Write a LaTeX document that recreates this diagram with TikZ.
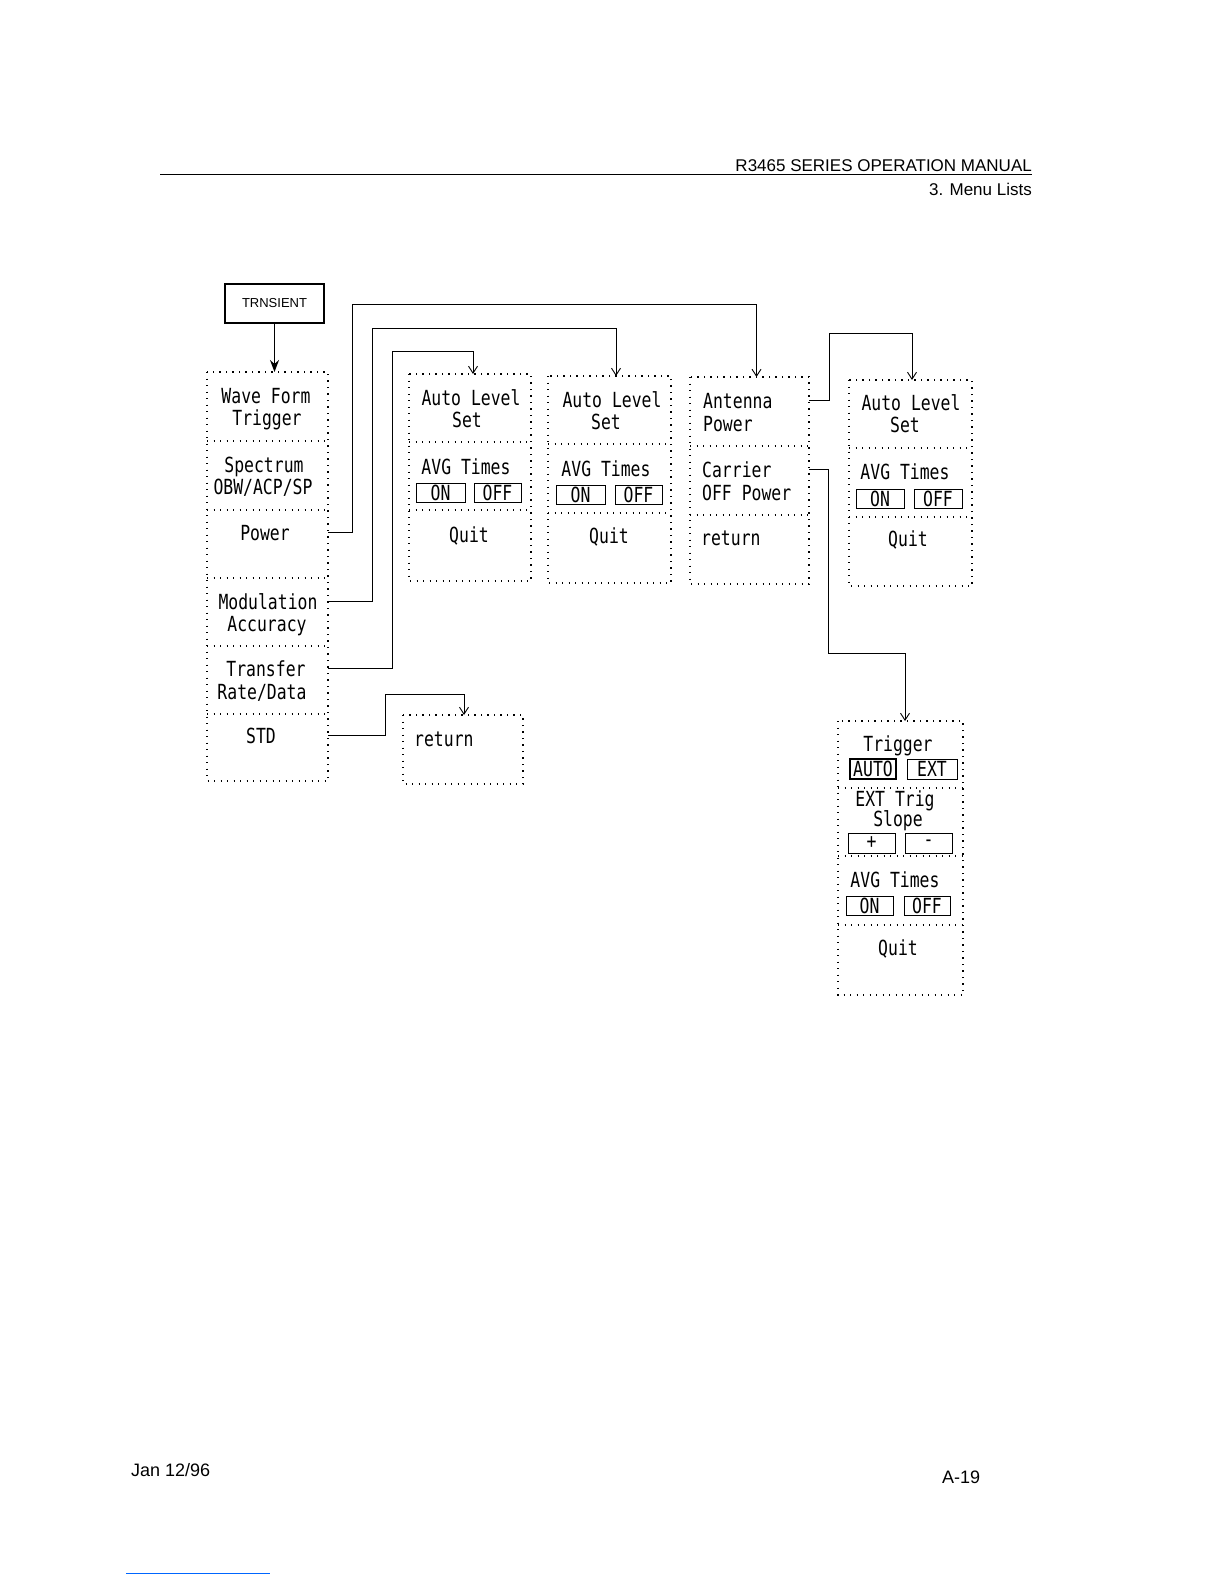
\documentclass[tikz,border=0pt]{standalone}
\usepackage{fontspec}
\usetikzlibrary{arrows.meta,calc}
\newfontfamily\dgmfont[FakeStretch=0.79]{DejaVu Sans Mono}
\newfontfamily\hdrfont{Liberation Sans}
\newcommand\dgm{\dgmfont\fontsize{20.8}{22}\selectfont}
\newcommand\hdr{\hdrfont\fontsize{17}{20}\selectfont}
\newcommand\ftr{\hdrfont\fontsize{18}{20}\selectfont}
\newcommand\trn{\hdrfont\fontsize{13}{14}\selectfont}
\begin{document}
\begin{tikzpicture}[x=1pt,y=-1pt,
  cell/.style={rectangle,inner sep=0pt,outer sep=0pt,anchor=north west},
  dots/.style={line width=1.1pt,dash pattern=on 1.2pt off 5.3pt},
  txt/.style={font=\dgm,inner sep=0pt,anchor=base},
  ltxt/.style={font=\dgm,inner sep=0pt,anchor=base west},
  btn/.style={draw,line width=0.9pt,inner sep=0pt,minimum height=19,font=\dgm},
  link/.style={line width=0.9pt,-{Straight Barb[length=7pt,width=9pt]}}]
\useasboundingbox (0,0) rectangle (1224,1584);
\fill[white] (0,0) rectangle (1224,1584);

% header
\node[font=\hdr,inner sep=0pt,anchor=base east] (h1) at (1032,171) {R3465 SERIES OPERATION MANUAL};
\node[font=\hdr,inner sep=0pt,anchor=base east] (h2) at (1032,195) {3. Menu Lists};
\draw[line width=1pt] (160,174) -- (1032,174);

% TRNSIENT
\node[draw,line width=1.3pt,minimum width=99,minimum height=39,inner sep=0pt,font=\trn] (tr) at (274.5,303.5) {TRNSIENT};

% column A
\node[cell,minimum width=121,minimum height=69] (a1) at (207,372) {};
\node[cell,minimum width=121,minimum height=69] (a2) at (207,441) {};
\node[cell,minimum width=121,minimum height=68] (a3) at (207,510) {};
\node[cell,minimum width=121,minimum height=68] (a4) at (207,578) {};
\node[cell,minimum width=121,minimum height=68] (a5) at (207,646) {};
\node[cell,minimum width=121,minimum height=67] (a6) at (207,714) {};
\draw[dots] (a1.north west) rectangle (a6.south east);
\foreach \c in {a1,a2,a3,a4,a5} \draw[dots] (\c.south west) -- (\c.south east);
\node[txt] (ta1a) at (266,403) {Wave Form};
\node[txt] (ta1b) at (267,425) {Trigger};
\node[txt] (ta2a) at (264,472) {Spectrum};
\node[txt] (ta2b) at (263,494) {OBW/ACP/SP};
\node[txt] (ta3) at (265,540) {Power};
\node[txt] (ta4a) at (268,609) {Modulation};
\node[txt] (ta4b) at (267,631) {Accuracy};
\node[txt] (ta5a) at (266,676) {Transfer};
\node[txt] (ta5b) at (262,699) {Rate/Data};
\node[txt] (ta6) at (261,743) {STD};
\draw[line width=1.6pt,-{Stealth[length=12pt,width=9pt]}] (tr.south) -- (tr.south |- a1.north);

% column B
\node[cell,minimum width=122,minimum height=68] (b1) at (409,374) {};
\node[cell,minimum width=122,minimum height=68] (b2) at (409,442) {};
\node[cell,minimum width=122,minimum height=71] (b3) at (409,510) {};
\draw[dots] (b1.north west) rectangle (b3.south east);
\foreach \c in {b1,b2} \draw[dots] (\c.south west) -- (\c.south east);
\node[txt] (tb1a) at (471,405) {Auto Level};
\node[txt] (tb1b) at (467,427) {Set};
\node[txt] (tb2) at (466,474) {AVG Times};
\node[btn,minimum width=49] (b2on) at (440.5,492.5) {ON};
\node[btn,minimum width=47] (b2off) at (497.5,492.5) {OFF};
\node[txt] (tb3) at (469,542) {Quit};

% column C
\node[cell,minimum width=123,minimum height=68] (c1) at (548,376) {};
\node[cell,minimum width=123,minimum height=69] (c2) at (548,444) {};
\node[cell,minimum width=123,minimum height=70] (c3) at (548,513) {};
\draw[dots] (c1.north west) rectangle (c3.south east);
\foreach \c in {c1,c2} \draw[dots] (\c.south west) -- (\c.south east);
\node[txt] (tc1a) at (612,407) {Auto Level};
\node[txt] (tc1b) at (606,429) {Set};
\node[txt] (tc2) at (606,476) {AVG Times};
\node[btn,minimum width=49] (c2on) at (580.5,495) {ON};
\node[btn,minimum width=47] (c2off) at (638.5,495) {OFF};
\node[txt] (tc3) at (609,543) {Quit};

% column D
\node[cell,minimum width=119,minimum height=69] (d1) at (690,377) {};
\node[cell,minimum width=119,minimum height=69] (d2) at (690,446) {};
\node[cell,minimum width=119,minimum height=69] (d3) at (690,515) {};
\draw[dots] (d1.north west) rectangle (d3.south east);
\foreach \c in {d1,d2} \draw[dots] (\c.south west) -- (\c.south east);
\node[ltxt] (td1a) at (703,408) {Antenna};
\node[ltxt] (td1b) at (703,431) {Power};
\node[ltxt] (td2a) at (702,477) {Carrier};
\node[ltxt] (td2b) at (702,500) {OFF Power};
\node[ltxt] (td3) at (701,545) {return};

% column E
\node[cell,minimum width=123,minimum height=68] (e1) at (849,380) {};
\node[cell,minimum width=123,minimum height=69] (e2) at (849,448) {};
\node[cell,minimum width=123,minimum height=69] (e3) at (849,517) {};
\draw[dots] (e1.north west) rectangle (e3.south east);
\foreach \c in {e1,e2} \draw[dots] (\c.south west) -- (\c.south east);
\node[txt] (te1a) at (911,410) {Auto Level};
\node[txt] (te1b) at (905,432) {Set};
\node[txt] (te2) at (905,479) {AVG Times};
\node[btn,minimum width=48] (e2on) at (880,498.5) {ON};
\node[btn,minimum width=48] (e2off) at (938,498.5) {OFF};
\node[txt] (te3) at (908,546) {Quit};

% column F
\node[cell,minimum width=125,minimum height=67] (f1) at (838,721) {};
\node[cell,minimum width=125,minimum height=68] (f2) at (838,788) {};
\node[cell,minimum width=125,minimum height=69] (f3) at (838,856) {};
\node[cell,minimum width=125,minimum height=70] (f4) at (838,925) {};
\draw[dots] (f1.north west) rectangle (f4.south east);
\foreach \c in {f1,f2,f3} \draw[dots] (\c.south west) -- (\c.south east);
\node[txt] (tf1) at (898,751) {Trigger};
\node[btn,line width=1.4pt,minimum width=46,minimum height=20] (f1auto) at (873,769) {AUTO};
\node[btn,minimum width=50,minimum height=20] (f1ext) at (932,769) {EXT};
\node[txt] (tf2a) at (895,806) {EXT Trig};
\node[txt] (tf2b) at (898,826) {Slope};
\node[btn,minimum width=47,minimum height=20] (f2p) at (871.5,843) {+};
\node[btn,minimum width=47,minimum height=20] (f2m) at (928.5,843) {-};
\node[txt] (tf3) at (895,887) {AVG Times};
\node[btn,minimum width=47] (f3on) at (869.5,905.5) {ON};
\node[btn,minimum width=46] (f3off) at (927,905.5) {OFF};
\node[txt] (tf4) at (898,955) {Quit};

% return box G
\node[cell,minimum width=120,minimum height=69] (g) at (403,715) {};
\draw[dots] (g.north west) rectangle (g.south east);
\node[ltxt] (tg) at (414,746) {return};

% connectors
\draw[link] (a3.east |- ta3.center) -| (352,304) -| ($(d1.north)+(7,0)$);
\draw[link] (a4.east |- ta4a.center) -| (372,328) -| ($(c1.north)+(6.5,0)$);
\draw[link] (a5.east |- ta5a.center) -| (392,351) -| ($(b1.north)+(3,0)$);
\draw[link] (a6.east |- ta6.center) -| (385,694) -| ($(g.north)+(1,0)$);
\draw[link] (d1.east |- td1a.center) -| (829,333) -| ($(e1.north)+(1.5,0)$);
\draw[link] (d2.east |- td2a.center) -| (828,653) -| ($(f1.north)+(4.5,0)$);

% footer
\node[font=\ftr,inner sep=0pt,anchor=base west] (date) at (131,1476) {Jan 12/96};
\node[font=\ftr,inner sep=0pt,anchor=base west] (page) at (942,1483) {A-19};
\draw[blue!60!cyan,line width=1pt] (126,1573) -- (270,1573);
\end{tikzpicture}
\end{document}
